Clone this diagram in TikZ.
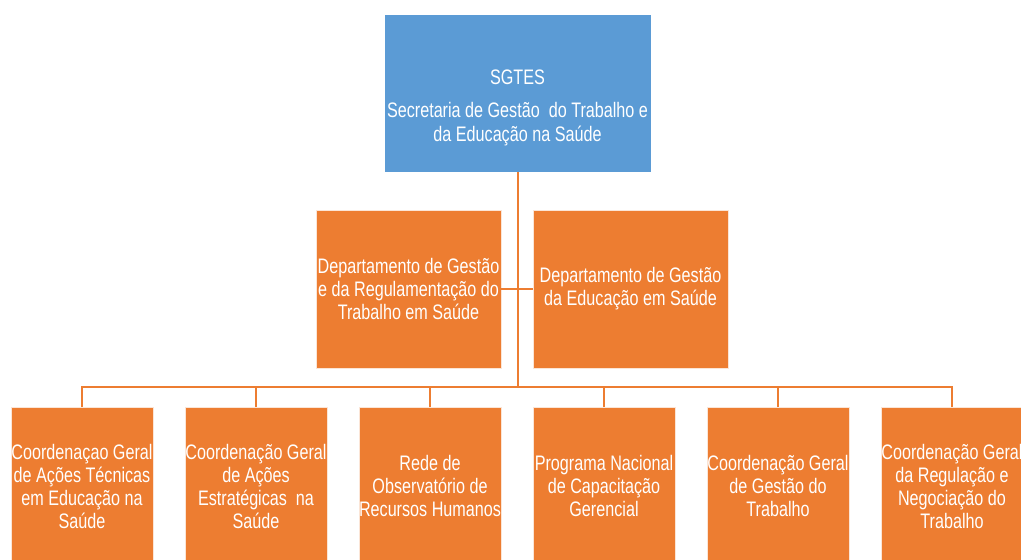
\documentclass[tikz,border=0pt]{standalone}
\usepackage{fontspec}
\setmainfont{Liberation Sans}[FakeStretch=0.77]
\definecolor{boxblue}{HTML}{5B9BD5}
\definecolor{boxorange}{HTML}{ED7D31}
\begin{document}
\begin{tikzpicture}[x=1pt,y=-1pt,
  every node/.style={inner sep=0pt, outer sep=0pt},
  bluebox/.style={fill=boxblue, draw=white, line width=0.8pt},
  orangebox/.style={fill=boxorange, draw=white!80!boxorange, line width=0.8pt, text=white, align=center,
    font=\fontsize{21}{23}\selectfont},
  link/.style={draw=boxorange, line width=2pt}]
\useasboundingbox (0,0) rectangle (1021,560);
\clip (0,0) rectangle (1021,560);
% top box
\node[bluebox, minimum width=267, minimum height=158] (sgtes) at (517.5,93) {};
\node[text=white, align=center, font=\fontsize{21}{24}\selectfont] (sgteslabel) at (517.5,108)
  {SGTES\\[9pt]Secretaria de Gestão\ \ do Trabalho e\\da Educação na Saúde};
% departments
\node[orangebox, minimum width=185, minimum height=158] (d1) at (408.5,289)
  {Departamento de Gestão\\e da Regulamentação do\\Trabalho em Saúde};
\node[orangebox, minimum width=195, minimum height=158] (d2) at (630.5,289)
  {Departamento de Gestão\\da Educação em Saúde};
% coordinations
\node[orangebox, minimum width=142, minimum height=158] (c1) at (82,486)
  {Coordenaçao Geral\\de Ações Técnicas\\em Educação na\\Saúde};
\node[orangebox, minimum width=142, minimum height=158] (c2) at (256,486)
  {Coordenação Geral\\de Ações\\Estratégicas\ \ na\\Saúde};
\node[orangebox, minimum width=142, minimum height=158] (c3) at (430,486)
  {Rede de\\Observatório de\\Recursos Humanos};
\node[orangebox, minimum width=142, minimum height=158] (c4) at (604,486)
  {Programa Nacional\\de Capacitação\\Gerencial};
\node[orangebox, minimum width=142, minimum height=158] (c5) at (778,486)
  {Coordenação Geral\\de Gestão do\\Trabalho};
\node[orangebox, minimum width=142, minimum height=158] (c6) at (952,486)
  {Coordenação Geral\\da Regulação e\\Negociação do\\Trabalho};
% connectors
\coordinate (bus) at (517.5,387);
\draw[link] (sgtes.south) -- (bus);
\draw[link] (d1.east) -- (d2.west);
\foreach \c in {c1,c2,c3,c4,c5,c6}
  \draw[link] (\c.north) |- (bus);
\end{tikzpicture}
\end{document}
